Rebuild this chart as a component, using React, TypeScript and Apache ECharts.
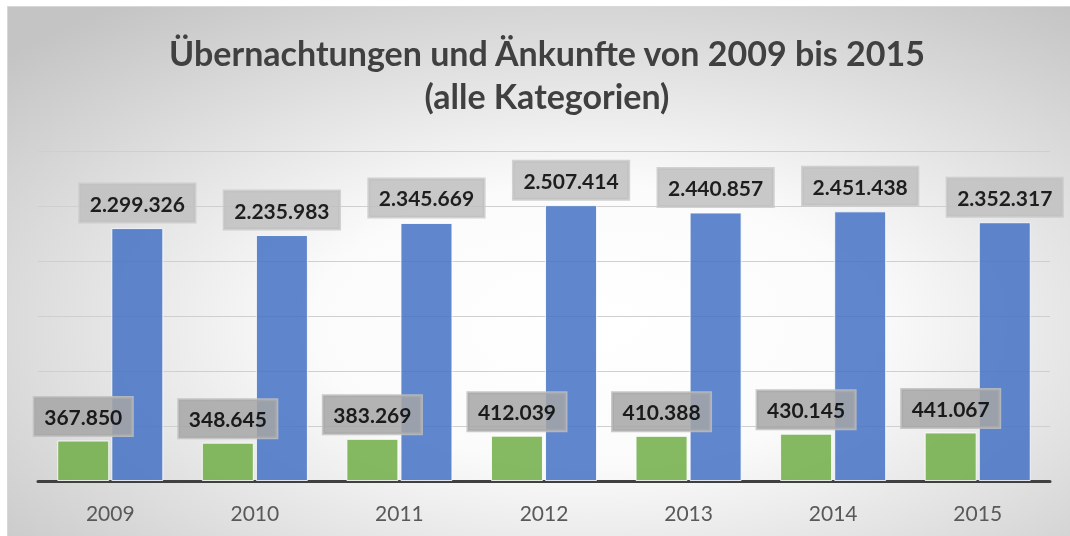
import React, { useEffect, useRef } from "react";
import * as echarts from "echarts";

const years = ["2009", "2010", "2011", "2012", "2013", "2014", "2015"];
const ankuenfte = [367850, 348645, 383269, 412039, 410388, 430145, 441067];
const uebernachtungen = [2299326, 2235983, 2345669, 2507414, 2440857, 2451438, 2352317];
const titleLines = ["Übernachtungen und Änkunfte von 2009 bis 2015", "(alle Kategorien)"];

const fmt = (v: number) => v.toLocaleString("de-DE");

export default function App() {
  const ref = useRef<HTMLDivElement>(null);
  useEffect(() => {
    if (!ref.current) return;
    const chart = echarts.init(ref.current, undefined, { renderer: "svg" });
    const font = "Lato, 'Open Sans', sans-serif";
    chart.setOption({
      animation: false,
      backgroundColor: {
        type: "radial",
        x: 0.55,
        y: 0.6,
        r: 0.75,
        colorStops: [
          { offset: 0, color: "#ffffff" },
          { offset: 0.35, color: "#fbfbfb" },
          { offset: 1, color: "#c4c4c4" },
        ],
      },
      graphic: [
        {
          type: "text",
          x: 539,
          y: 24,
          style: {
            text: titleLines.join("\n"),
            font: `bold 34px ${font}`,
            fill: "#404040",
            textAlign: "center",
            lineHeight: 43,
          },
        },
      ],
      grid: { left: 30, right: 20, top: 144, bottom: 55 },
      xAxis: {
        type: "category",
        data: years,
        axisTick: { show: false },
        axisLine: { lineStyle: { color: "#404040", width: 3 } },
        axisLabel: { color: "#595959", fontSize: 21, fontFamily: font, margin: 21 },
      },
      yAxis: {
        type: "value",
        min: 0,
        max: 3000000,
        interval: 500000,
        axisLabel: { show: false },
        axisLine: { show: false },
        axisTick: { show: false },
        splitLine: { lineStyle: { color: "#cfcfcf", width: 1 } },
      },
      series: [
        {
          name: "Ankünfte",
          type: "bar",
          data: ankuenfte,
          barWidth: 52,
          barGap: "4%",
          itemStyle: { color: "#70ad47", opacity: 0.85, borderColor: "#ffffff", borderWidth: 1 },
          label: {
            show: true,
            position: "top",
            distance: 5,
            formatter: (p: any) => fmt(p.value),
            color: "#000000",
            fontWeight: "bold",
            fontSize: 21,
            fontFamily: font,
            backgroundColor: "#a6a6a6",
            borderColor: "#c0c0c0",
            borderWidth: 1.5,
            padding: [6, 10],
            lineHeight: 26,
          },
        },
        {
          name: "Übernachtungen",
          type: "bar",
          data: uebernachtungen,
          barWidth: 52,
          itemStyle: { color: "#4472c4", opacity: 0.85, borderColor: "#ffffff", borderWidth: 1 },
          label: {
            show: true,
            position: "top",
            distance: 6,
            formatter: (p: any) => fmt(p.value),
            color: "#000000",
            fontWeight: "bold",
            fontSize: 21,
            fontFamily: font,
            backgroundColor: "#bfbfbf",
            borderColor: "#cacaca",
            borderWidth: 1.5,
            padding: [6, 10],
            lineHeight: 26,
          },
        },
      ],
    });
    return () => chart.dispose();
  }, []);
  return (
    <div
      ref={ref}
      style={{
        position: "fixed",
        left: 7,
        top: 6,
        width: 1063,
        height: 530,
        borderTop: "1px solid #d8d8d8",
        borderLeft: "1px solid #d8d8d8",
        boxSizing: "border-box",
      }}
    />
  );
}
